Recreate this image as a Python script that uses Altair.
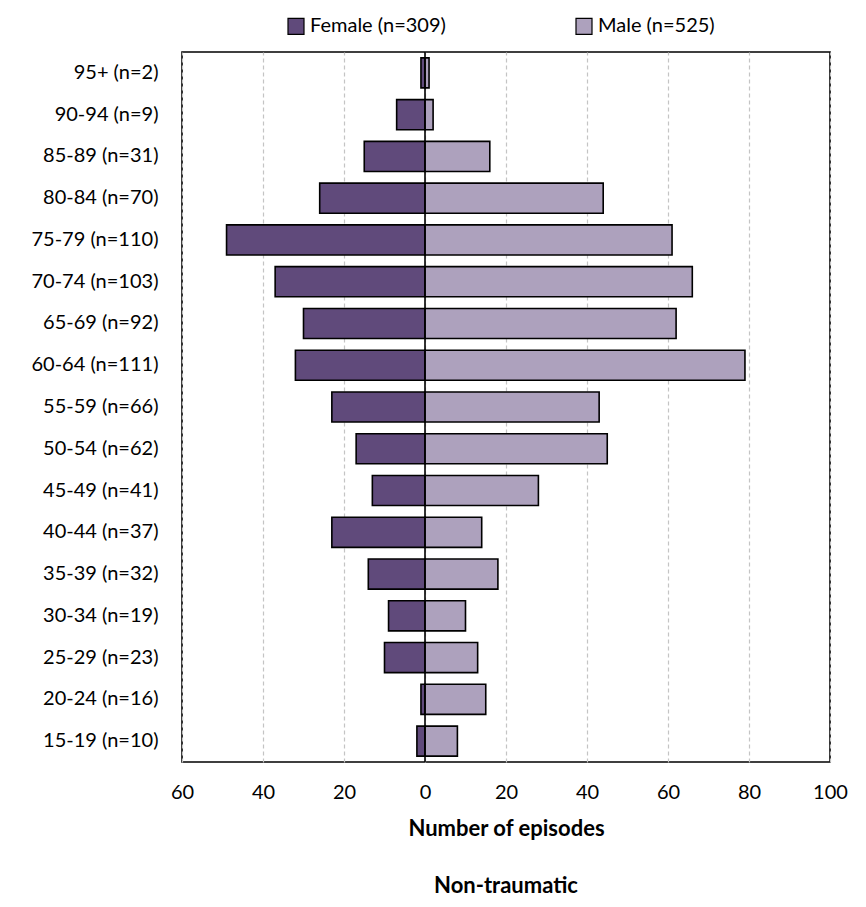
import altair as alt
import pandas as pd

ages = ["95+ (n=2)", "90-94 (n=9)", "85-89 (n=31)", "80-84 (n=70)", "75-79 (n=110)",
        "70-74 (n=103)", "65-69 (n=92)", "60-64 (n=111)", "55-59 (n=66)", "50-54 (n=62)",
        "45-49 (n=41)", "40-44 (n=37)", "35-39 (n=32)", "30-34 (n=19)", "25-29 (n=23)",
        "20-24 (n=16)", "15-19 (n=10)"]
female = [1, 7, 15, 26, 49, 37, 30, 32, 23, 17, 13, 23, 14, 9, 10, 1, 2]
male = [1, 2, 16, 44, 61, 66, 62, 79, 43, 45, 28, 14, 18, 10, 13, 15, 8]
series = ["Female (n=309)", "Male (n=525)"]
x_ticks = [-60, -40, -20, 0, 20, 40, 60, 80, 100]

rows = []
for a, f, m in zip(ages, female, male):
    rows.append({"age": a, "sex": series[0], "value": -f})
    rows.append({"age": a, "sex": series[1], "value": m})
df = pd.DataFrame(rows)

FONT = "Lato"
LW = 400

bars = alt.Chart(df).mark_bar(stroke="black", strokeWidth=1.6).encode(
    y=alt.Y("age:N", sort=ages,
            scale=alt.Scale(paddingInner=0.28, paddingOuter=0.14),
            axis=alt.Axis(title=None, ticks=False, domain=False, labelPadding=24,
                          labelFontSize=20, labelColor="black", labelFont=FONT,
                          labelFontWeight=LW)),
    x=alt.X("value:Q", stack=None,
            scale=alt.Scale(domain=[-60, 100], nice=False, zero=False),
            axis=alt.Axis(values=x_ticks, labelExpr="abs(datum.value)",
                          title="Number of episodes", grid=True, gridDash=[4, 3],
                          gridColor="#c4c4c4", gridWidth=1.2, ticks=False, domain=False,
                          labelFlush=False, labelPadding=20, labelFontSize=20,
                          labelColor="black", labelFont=FONT, labelFontWeight=LW,
                          titleFont=FONT, titleFontSize=22, titleFontWeight="bold",
                          titleColor="black", titlePadding=16)),
    color=alt.Color("sex:N",
                    scale=alt.Scale(domain=series, range=["#604a7b", "#ada1bd"]),
                    legend=alt.Legend(title=None, orient="none", legendX=104, legendY=-36,
                                      direction="horizontal", symbolType="square",
                                      symbolSize=256, symbolStrokeColor="black",
                                      symbolStrokeWidth=1.2, labelFontSize=20,
                                      labelFont=FONT, labelFontWeight=LW,
                                      labelColor="black", labelOffset=4,
                                      columnPadding=127)),
)

zero = alt.Chart(pd.DataFrame({"x": [0]})).mark_rule(color="black", strokeWidth=1.6).encode(
    x=alt.X("x:Q")
)

chart = alt.layer(bars, zero).properties(
    width=648,
    height=710,
    autosize=alt.AutoSizeParams(type="none"),
    padding={"left": 174, "top": 44, "right": 28, "bottom": 137},
    title=alt.TitleParams("Non-traumatic", orient="bottom", fontSize=22, font=FONT,
                          fontWeight="bold", color="black", offset=37),
).configure_view(stroke="black", strokeWidth=1.6)

chart.save("out.html", embed_options={"renderer": "svg", "actions": False})
